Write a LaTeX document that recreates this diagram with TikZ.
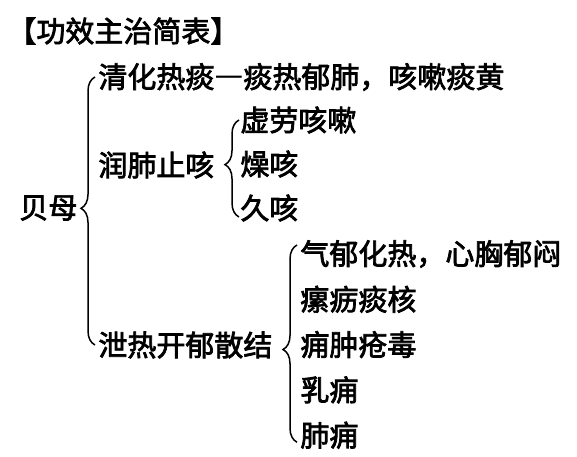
\documentclass[tikz,border=0pt]{standalone}
\usepackage{fontspec}
\setmainfont{Noto Sans CJK SC}[FakeBold=2.5]
\usetikzlibrary{positioning,decorations.pathreplacing}

\begin{document}
\begin{tikzpicture}[x=1pt, y=-1pt, node distance=44pt,
                    thick, main node/.style={inner sep=0pt, anchor=west, font=\fontsize{29}{31}\selectfont},
                    brace line/.style={decorate, decoration={brace, amplitude=14pt}, line width=1.5pt}]
  \useasboundingbox[fill=white] (0,0) rectangle (577,456);

  \node[main node] (0) at (7,31) {【功效主治简表】};
  \node[main node] (1) at (19,208) {贝母};
  \node[main node] (2) at (98,77) {清化热痰―痰热郁肺，咳嗽痰黄};
  \node[main node] (3) at (98,165) {润肺止咳};
  \node[main node] (4) at (98,345) {泄热开郁散结};
  \node[main node] (5) at (240,120) {虚劳咳嗽};
  \node[main node] (6) [below=44pt of 5.west, anchor=west] {燥咳};
  \node[main node] (7) [below=44pt of 6.west, anchor=west] {久咳};
  \node[main node] (8) at (300,254) {气郁化热，心胸郁闷};
  \node[main node] (9) [below=45.3pt of 8.west, anchor=west] {瘰疬痰核};
  \node[main node] (10) [below=45.3pt of 9.west, anchor=west] {痈肿疮毒};
  \node[main node] (11) [below=45.3pt of 10.west, anchor=west] {乳痈};
  \node[main node] (12) [below=45.3pt of 11.west, anchor=west] {肺痈};

  % braces
  \draw[brace line, decoration={aspect=0.51}] ([xshift=-3pt]4.west) -- ([xshift=-3pt]2.west);
  \draw[brace line, decoration={aspect=0.54}] ([xshift=-1pt,yshift=-9pt]7.west) -- ([xshift=-1pt]5.west);
  \draw[brace line, decoration={aspect=0.47}] ([xshift=-3pt,yshift=-7pt]12.west) -- ([xshift=-3pt,yshift=9pt]8.west);

\end{tikzpicture}
\end{document}
